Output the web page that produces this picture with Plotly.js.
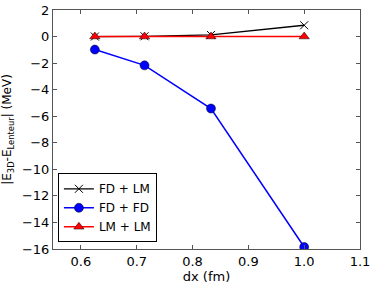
<!DOCTYPE html>
<html>
<head>
<meta charset="utf-8">
<script src="https://cdn.plot.ly/plotly-3.0.1.min.js"></script>
<style>html,body{margin:0;padding:0;background:#fff;}#chart{width:374px;height:287px;}</style>
</head>
<body>
<div id="chart"></div>
<script>
const dx = [0.625, 0.714, 0.833, 1.0];
const fdLm = [0.0, 0.02, 0.12, 0.85];
const fdFd = [-0.98, -2.17, -5.42, -15.85];
const lmLm = [0.0, 0.0, 0.0, 0.0];
const seriesNames = ["FD + LM", "FD + FD", "LM + LM"];

const font = {family: "DejaVu Sans", size: 13, color: "#000"};
const smallFont = {family: "DejaVu Sans", size: 12, color: "#000"};
const traces = [
  {x: dx, y: fdLm, name: seriesNames[0], mode: "lines+markers",
   line: {color: "#000000", width: 1.3},
   marker: {symbol: "x-thin-open", size: 8, color: "#000000", line: {width: 1, color: "#000000"}}},
  {x: dx, y: fdFd, name: seriesNames[1], mode: "lines+markers",
   line: {color: "#0000ff", width: 1.5},
   marker: {symbol: "circle", size: 9, color: "#0000ff", line: {width: 0.5, color: "#000000"}}},
  {x: dx, y: lmLm, name: seriesNames[2], mode: "lines+markers",
   line: {color: "#ff0000", width: 1.5},
   marker: {symbol: "triangle-up", size: 9, color: "#ff0000", line: {width: 0.5, color: "#000000"}}}
];

const axisCommon = {
  showgrid: false, zeroline: false, showline: true, linecolor: "#555", linewidth: 1,
  mirror: "allticks", ticks: "inside", ticklen: 4, tickcolor: "#555", tickwidth: 1,
  tickfont: font
};

const layout = {
  width: 374, height: 287,
  margin: {l: 53, r: 14, t: 10, b: 38},
  paper_bgcolor: "#fff", plot_bgcolor: "#fff",
  font: font,
  showlegend: true,
  legend: {x: 0.016, y: 0.028, xanchor: "left", yanchor: "bottom",
           bordercolor: "#000", borderwidth: 1, bgcolor: "#fff",
           font: smallFont, tracegroupgap: 0, itemwidth: 30},
  xaxis: Object.assign({}, axisCommon, {
    range: [0.55, 1.1], tickvals: [0.6, 0.7, 0.8, 0.9, 1.0, 1.1],
    ticktext: ["0.6", "0.7", "0.8", "0.9", "1.0", "1.1"],
    title: {text: "dx (fm)", font: font, standoff: 4}
  }),
  yaxis: Object.assign({}, axisCommon, {
    range: [-16, 2], tickvals: [-16, -14, -12, -10, -8, -6, -4, -2, 0, 2],
    title: {text: "|E<sub>3D</sub>-E<sub>Lenteur</sub>| (MeV)", font: smallFont, standoff: 7}
  })
};

Plotly.newPlot("chart", traces, layout, {displayModeBar: false, staticPlot: true});
</script>
</body>
</html>
